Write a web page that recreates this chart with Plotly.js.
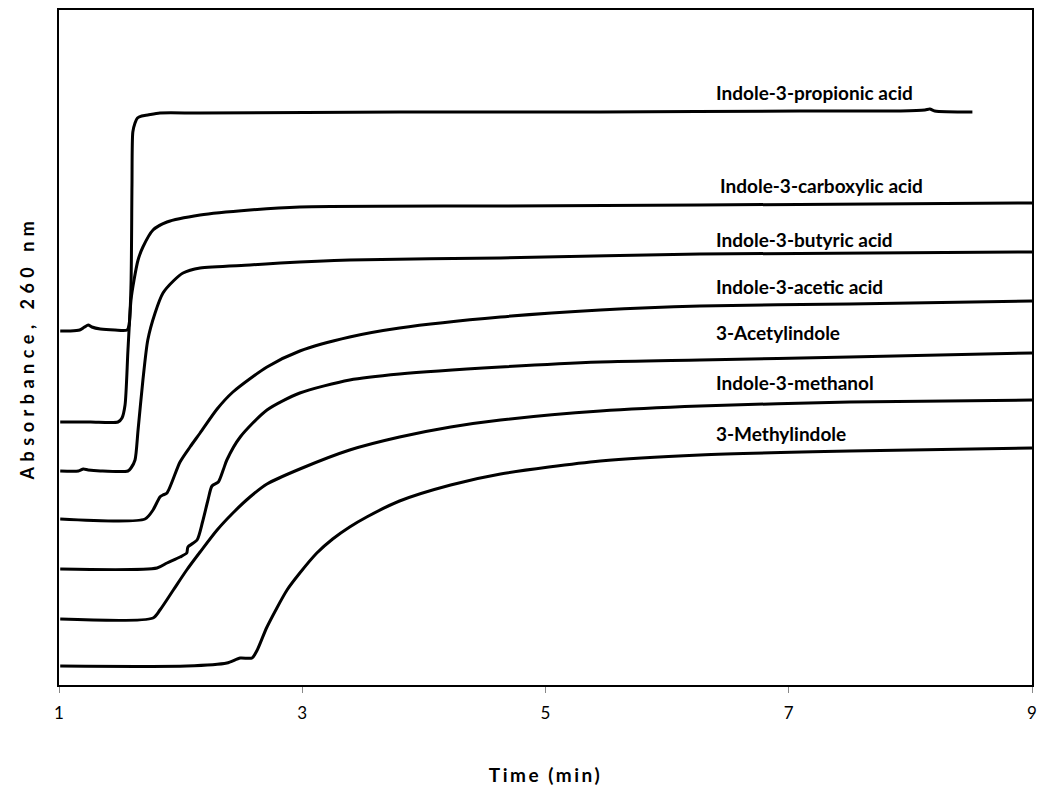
<!DOCTYPE html>
<html>
<head>
<meta charset="utf-8">
<script src="https://cdn.plot.ly/plotly-3.0.1.min.js"></script>
<style>
html,body{margin:0;padding:0;background:#fff;}
#chart{width:1050px;height:797px;}
#chart .g-xtitle text{letter-spacing:2.5px;}
#chart .g-ytitle text{letter-spacing:5.5px;}
</style>
</head>
<body>
<div id="chart"></div>
<script>
// Series names
const seriesNames = [
  "Indole-3-propionic acid",
  "Indole-3-carboxylic acid",
  "Indole-3-butyric acid",
  "Indole-3-acetic acid",
  "3-Acetylindole",
  "Indole-3-methanol",
  "3-Methylindole"
];

// Time (min) and absorbance (arbitrary units, traces offset vertically)
const propionicX = [1.01,1.09,1.17,1.21,1.24,1.27,1.34,1.46,1.56,1.576,1.592,1.60,1.607,1.625,1.645,1.68,1.73,1.83,2.16,3.80,5.45,7.09,7.92,8.12,8.16,8.20,8.51];
const propionicY = [354,354,355,358,360,358,356,355,355,360,400,500,553,562,567,569,570,572,572,573,573,574,574,575,576,574,573];

const carboxylicX = [1.01,1.26,1.485,1.518,1.543,1.567,1.592,1.617,1.65,1.69,1.773,1.888,2.16,2.57,2.98,4.63,6.27,9.0];
const carboxylicY = [263,263,263,267,280,335,385,405,425,438,455,463,470,475,478,479,480,482];

const butyricX = [1.01,1.16,1.20,1.24,1.34,1.567,1.592,1.625,1.65,1.69,1.73,1.79,1.855,1.94,2.02,2.16,2.57,2.82,3.39,4.63,6.27,9.0];
const butyricY = [214,214,216,215,214,214,217,225,255,305,345,372,392,404,412,417,420,422,425,427,431,433];

const aceticX = [1.01,1.707,1.773,1.83,1.855,1.888,1.995,2.077,2.16,2.30,2.43,2.71,2.98,3.39,3.80,4.63,5.45,6.27,7.50,9.0];
const aceticY = [166,166,175,188,190,192,223,238,252,276,293,318,334,348,357,368,375,379,381,384];

const acetylX = [1.01,1.806,1.888,1.995,2.05,2.06,2.135,2.18,2.225,2.258,2.31,2.35,2.38,2.49,2.71,2.98,3.39,3.80,4.63,5.45,6.27,7.50,9.0];
const acetylY = [116,117,122,128,132,138,145,163,185,199,203,215,225,248,275,292,305,311,318,323,325,328,332];

const methanolX = [1.01,1.773,1.83,1.94,2.05,2.16,2.30,2.43,2.57,2.71,2.98,3.39,3.80,4.22,4.63,5.45,6.27,7.50,9.0];
const methanolY = [66,67,75,95,115,133,155,172,188,201,216,235,248,258,265,274,279,283,285];

const methylX = [1.01,2.05,2.38,2.49,2.587,2.63,2.71,2.875,2.98,3.12,3.25,3.39,3.53,3.80,4.22,4.63,5.45,6.27,7.50,9.0];
const methylY = [19,19,22,27,27,35,58,95,112,132,146,158,168,184,200,211,224,230,234,237];

// Tick labels
const xTickVals = [1,3,5,7,9];
const xTickText = ["1","3","5","7","9"];

const seriesX = [propionicX, carboxylicX, butyricX, aceticX, acetylX, methanolX, methylX];
const seriesY = [propionicY, carboxylicY, butyricY, aceticY, acetylY, methanolY, methylY];

const traces = seriesNames.map((name, i) => ({
  type: 'scatter', mode: 'lines', name: name,
  x: seriesX[i], y: seriesY[i],
  line: {color: '#000000', width: 3, shape: 'spline', smoothing: 0.7},
  hoverinfo: 'name'
}));

// label placement (layout, not data)
const labelPos = [
  {x: 6.386, y: 593},
  {x: 6.42,  y: 500},
  {x: 6.386, y: 446},
  {x: 6.386, y: 399},
  {x: 6.386, y: 353},
  {x: 6.386, y: 303},
  {x: 6.386, y: 252}
];

const annotations = seriesNames.map((name, i) => ({
  x: labelPos[i].x, y: labelPos[i].y, xref: 'x', yref: 'y',
  text: name, showarrow: false, xanchor: 'left', yanchor: 'middle',
  font: {family: 'Lato, Open Sans, sans-serif', size: 19, color: '#000', weight: 700}
}));

const layout = {
  width: 1050, height: 797,
  margin: {l: 59, r: 18, t: 10, b: 112},
  paper_bgcolor: '#ffffff', plot_bgcolor: '#ffffff',
  showlegend: false,
  xaxis: {
    range: [1, 9], tickvals: xTickVals, ticktext: xTickText,
    showgrid: false, zeroline: false,
    showline: true, mirror: true, linecolor: '#000', linewidth: 2,
    ticks: 'outside', ticklen: 6, tickwidth: 1, tickcolor: '#888',
    ticklabelstandoff: 6,
    tickfont: {family: 'Lato, Open Sans, sans-serif', size: 17, color: '#000'},
    title: {text: 'Time (min)', standoff: 46,
      font: {family: 'Lato, Open Sans, sans-serif', size: 19, color: '#000', weight: 700}}
  },
  yaxis: {
    range: [0, 675], showticklabels: false, ticks: '',
    showgrid: false, zeroline: false,
    showline: true, mirror: true, linecolor: '#000', linewidth: 2,
    title: {text: 'Absorbance, 260 nm', standoff: 18,
      font: {family: 'Lato, Open Sans, sans-serif', size: 18, color: '#000', weight: 700}}
  },
  annotations: annotations
};

Plotly.newPlot('chart', traces, layout, {displayModeBar: false, staticPlot: true});
</script>
</body>
</html>
